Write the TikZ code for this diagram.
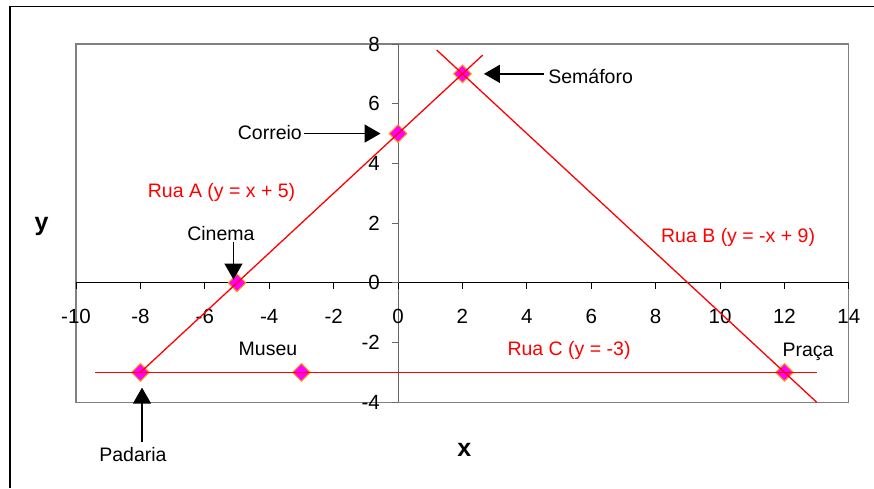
\documentclass[tikz,border=0pt]{standalone}
\usepackage{fontspec}
\setmainfont{Liberation Sans}
\usetikzlibrary{arrows.meta,positioning,shapes.geometric}

\definecolor{streetred}{RGB}{255,0,0}
\definecolor{spotfill}{RGB}{255,0,255}
\definecolor{spotedge}{RGB}{255,153,0}

\begin{document}
\begin{tikzpicture}[x=32.2pt,y=29.85pt,
  spot/.style={diamond,draw=spotedge,fill=spotfill,line width=1pt,inner sep=0pt,minimum size=18pt},
  street/.style={streetred,line width=1.3pt},
  pointer/.style={-{Triangle[length=16pt,width=18pt]},line width=1.5pt},
  place/.style={font=\fontsize{19.5}{22}\selectfont,inner sep=1pt,anchor=base},
  streetname/.style={place,text=streetred},
  ticklabel/.style={font=\fontsize{20.5}{23}\selectfont,inner sep=0pt},
  axisname/.style={font=\fontsize{25}{28}\selectfont\bfseries,inner sep=0pt}]
\useasboundingbox (-12.36,-6.874) rectangle (14.78,9.474);

% outer frame
\draw[line width=1.5pt] (-12.05,-6.874) -- (-12.05,9.256) -- (14.78,9.256);

% plot area
\draw[gray,line width=1.2pt] (-10,-4) rectangle (14,8);

% axes and ticks
\draw[line width=0.8pt] (-10,0) -- (14,0);
\draw[gray!80!black,line width=1pt] (0,-4) -- (0,8);
\foreach \x in {-10,-8,...,14} {
  \draw[line width=0.8pt] (\x,0) -- (\x,-0.22);
  \node[ticklabel,anchor=base] at (\x,-1.36) {\x};
}
\foreach \y in {-4,-2,...,8} {
  \draw[gray!80!black,line width=0.8pt] (0,\y) -- (-0.2,\y);
  \node[ticklabel,anchor=east] at (-0.56,\y) {\y};
}
\node[axisname] (xname) at (2.06,-5.58) {x};
\node[axisname] (yname) at (-11.07,1.9) {y};

% places on the map
\node[spot] (pPadaria) at (-8,-3) {};
\node[spot] (pCinema) at (-5,0) {};
\node[spot] (pMuseu) at (-3,-3) {};
\node[spot] (pCorreio) at (0,5) {};
\node[spot] (pSemaforo) at (2,7) {};
\node[spot] (pPraca) at (12,-3) {};

% streets
\coordinate (aEnd) at (2.63,7.63);
\coordinate (bStart) at (1.2,7.8);
\coordinate (bEnd) at (13,-4);
\coordinate (cStart) at (-9.4,-3);
\coordinate (cEnd) at (13,-3);
\draw[street] (pPadaria.center) -- (aEnd);
\draw[street] (bStart) -- (bEnd);
\draw[street] (cStart) -- (cEnd);

\node[streetname] (ruaA) at (-5.48,2.87) {Rua A (y = x + 5)};
\node[streetname] (ruaB) at (10.56,1.34) {Rua B (y = -x + 9)};
\node[streetname] (ruaC) at (5.31,-2.42) {Rua C (y = -3)};

% labels with pointers
\node[place,anchor=base east] (correio) at (-2.95,4.81) {Correio};
\node[place,anchor=base west] (semaforo) at (4.63,6.68) {Semáforo};
\node[place] (cinema) at (-5.5,1.41) {Cinema};
\node[place] (padaria) at (-8.23,-5.99) {Padaria};
\node[place] (museu) at (-4.04,-2.42) {Museu};
\node[place] (praca) at (12.73,-2.48) {Praça};

\coordinate (cinemaTip) at (-5.11,0.11);
\coordinate (padariaTip) at (-7.95,-3.51);
\draw[pointer,shorten <=1pt,shorten >=8pt] (correio.east |- pCorreio) -- (pCorreio.west);
\draw[pointer,shorten <=3pt,shorten >=12pt] (semaforo.west |- pSemaforo) -- (pSemaforo.east);
\draw[pointer] (cinema.south -| cinemaTip) -- (cinemaTip);
\draw[pointer,shorten <=4pt] (padaria.north -| padariaTip) -- (padariaTip);
\end{tikzpicture}
\end{document}
